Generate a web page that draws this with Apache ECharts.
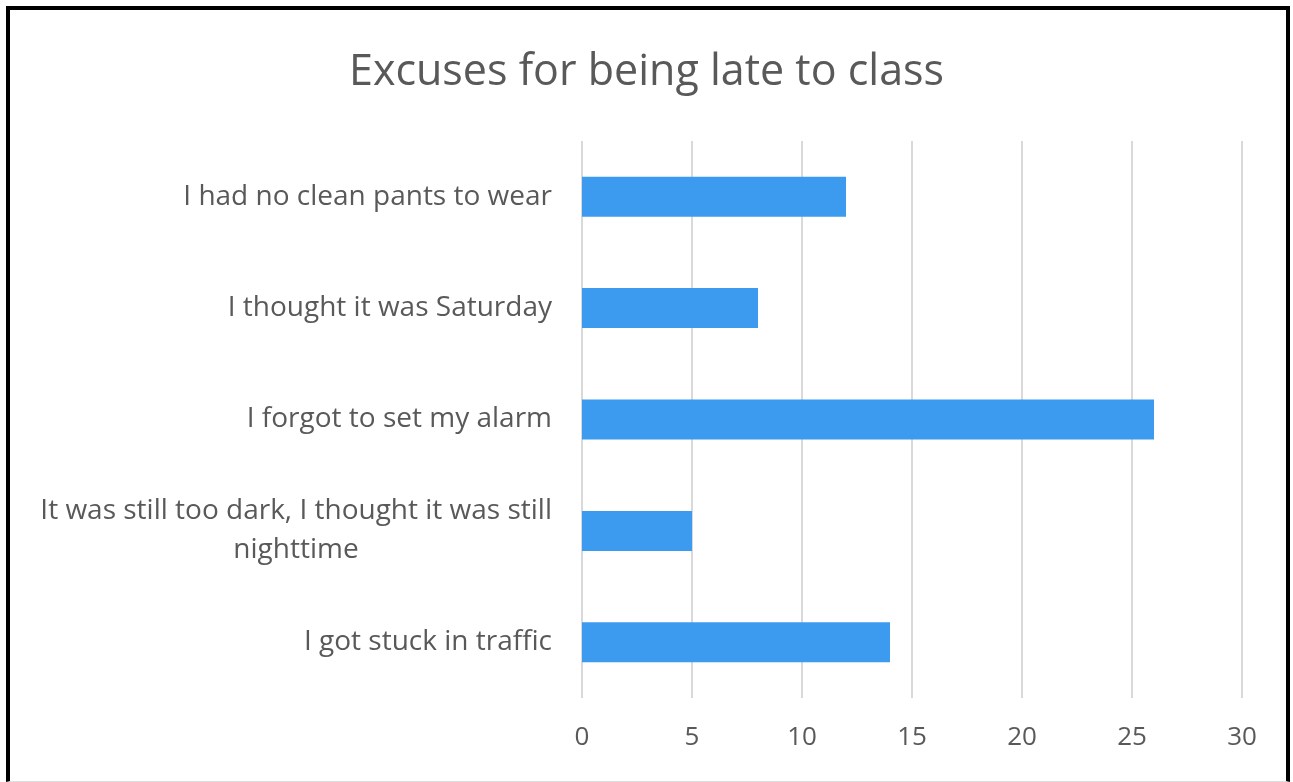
<!DOCTYPE html>
<html>
<head>
<meta charset="utf-8">
<title>Excuses for being late to class</title>
<script src="https://cdn.jsdelivr.net/npm/echarts@6/dist/echarts.min.js"></script>
<style>
  html, body { margin: 0; padding: 0; background: #fff; }
  #chart { width: 1293px; height: 782px; }
  .frame {
    position: absolute;
    left: 6px;
    top: 6px;
    width: 1284px;
    height: 776px;
    box-sizing: border-box;
    border: 4px solid #000;
    border-bottom: 1px solid #ddd;
    pointer-events: none;
  }
</style>
</head>
<body>
<div id="chart"></div>
<div class="frame"></div>
<script>
// categories listed bottom to top (ECharts category y-axis starts at bottom)
const excuses = [
  'I got stuck in traffic',
  'It was still too dark, I thought it was still nighttime',
  'I forgot to set my alarm',
  'I thought it was Saturday',
  'I had no clean pants to wear'
]
const counts = [14, 5, 26, 8, 12]
const axisMax = 30
const axisStep = 5

const textColor = '#595959'
const fontFamily = '"Open Sans", sans-serif'
const labelSize = 28

// width of a text run, used to centre the wrapped second line under the first
const measure = text => {
  const ctx = document.createElement('canvas').getContext('2d')
  ctx.font = `${labelSize}px ${fontFamily}`
  return Math.ceil(ctx.measureText(text).width)
}

const splitLabel = value => {
  const cut = value.lastIndexOf(' ', 46)
  return [value.slice(0, cut), value.slice(cut + 1)]
}

const wrapStyles = {}
excuses.filter(v => v.length > 30).forEach(v => {
  const width = measure(splitLabel(v)[0])
  wrapStyles[`b${width}`] = {
    color: textColor,
    fontFamily,
    fontSize: labelSize,
    lineHeight: 39,
    width,
    align: 'center'
  }
})

const chart = echarts.init(document.getElementById('chart'))

chart.setOption({
  backgroundColor: '#fff',
  animation: false,
  title: {
    text: 'Excuses for being late to class',
    left: 'center',
    top: 46,
    textStyle: {
      color: textColor,
      fontFamily,
      fontSize: 43,
      fontWeight: 'normal'
    }
  },
  grid: {
    left: 582,
    right: 51,
    top: 141,
    bottom: 84
  },
  xAxis: {
    type: 'value',
    min: 0,
    max: axisMax,
    interval: axisStep,
    axisLine: { show: false },
    axisTick: { show: false },
    axisLabel: {
      color: textColor,
      fontFamily,
      fontSize: 26,
      margin: 27
    },
    splitLine: {
      lineStyle: { color: '#d9d9d9', width: 2 }
    }
  },
  yAxis: {
    type: 'category',
    data: excuses,
    axisLine: { show: false },
    axisTick: { show: false },
    axisLabel: {
      margin: 30,
      formatter: value => {
        if (value.length > 30) {
          const [first, rest] = splitLabel(value)
          return `{a|${first}}\n{b${measure(first)}|${rest}}`
        }
        return `{a|${value}}`
      },
      rich: {
        a: {
          color: textColor,
          fontFamily,
          fontSize: labelSize,
          lineHeight: 39
        },
        ...wrapStyles
      }
    }
  },
  series: [
    {
      type: 'bar',
      data: counts,
      barWidth: 40,
      itemStyle: { color: '#3d9bef' }
    }
  ]
})
</script>
</body>
</html>
